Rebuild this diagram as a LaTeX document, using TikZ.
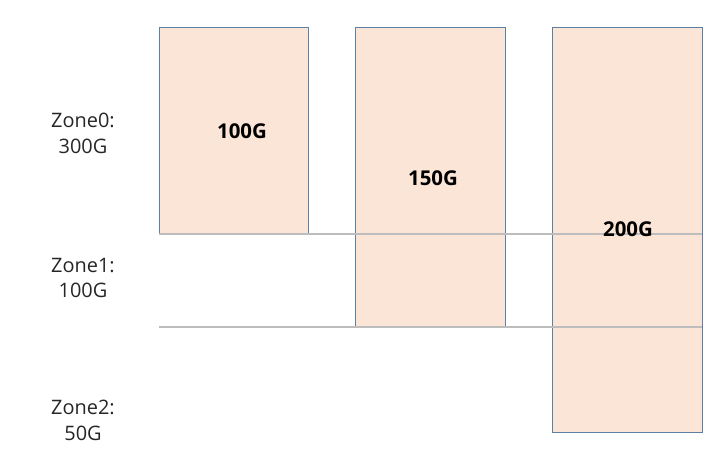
\documentclass[tikz,border=0pt]{standalone}
\usepackage{fontspec}
\setmainfont{Open Sans}
\definecolor{peach}{HTML}{FBE5D6}
\definecolor{edgeblue}{HTML}{5B7FA6}
\definecolor{zoneline}{HTML}{BDBDBD}
\begin{document}
\begin{tikzpicture}[x=1bp,y=-1bp,
  diskbox/.style={draw=edgeblue,line width=1.2bp,fill=peach,inner sep=0pt,anchor=north west},
  sizelabel/.style={font=\fontsize{20.5}{24}\selectfont\bfseries,inner sep=0pt},
  zonelabel/.style={font=\fontsize{20}{26}\selectfont,align=center,inner sep=0pt,text=black!85},
  zonesep/.style={draw=zoneline,line width=2bp}]
\useasboundingbox (0,0) rectangle (720,468);
\node[diskbox,minimum width=149bp,minimum height=206bp] (d1) at (159,27) {};
\node[diskbox,minimum width=150bp,minimum height=300bp] (d2) at (355,27) {};
\node[diskbox,minimum width=150bp,minimum height=405bp] (d3) at (552,27) {};
\coordinate (l1a) at (159,234);
\coordinate (l1b) at (702,234);
\coordinate (l2a) at (159,327);
\coordinate (l2b) at (702,327);
\draw[zonesep] (l1a) -- (l1b);
\draw[zonesep] (l2a) -- (l2b);
\node[sizelabel] (t1) at (242,131) {100G};
\node[sizelabel] (t2) at (433,178) {150G};
\node[sizelabel] (t3) at (628,229) {200G};
\node[zonelabel] (z0) at (83,133) {Zone0:\\300G};
\node[zonelabel] (z1) at (83,278) {Zone1:\\100G};
\node[zonelabel] (z2) at (83,420) {Zone2:\\50G};
\end{tikzpicture}
\end{document}
